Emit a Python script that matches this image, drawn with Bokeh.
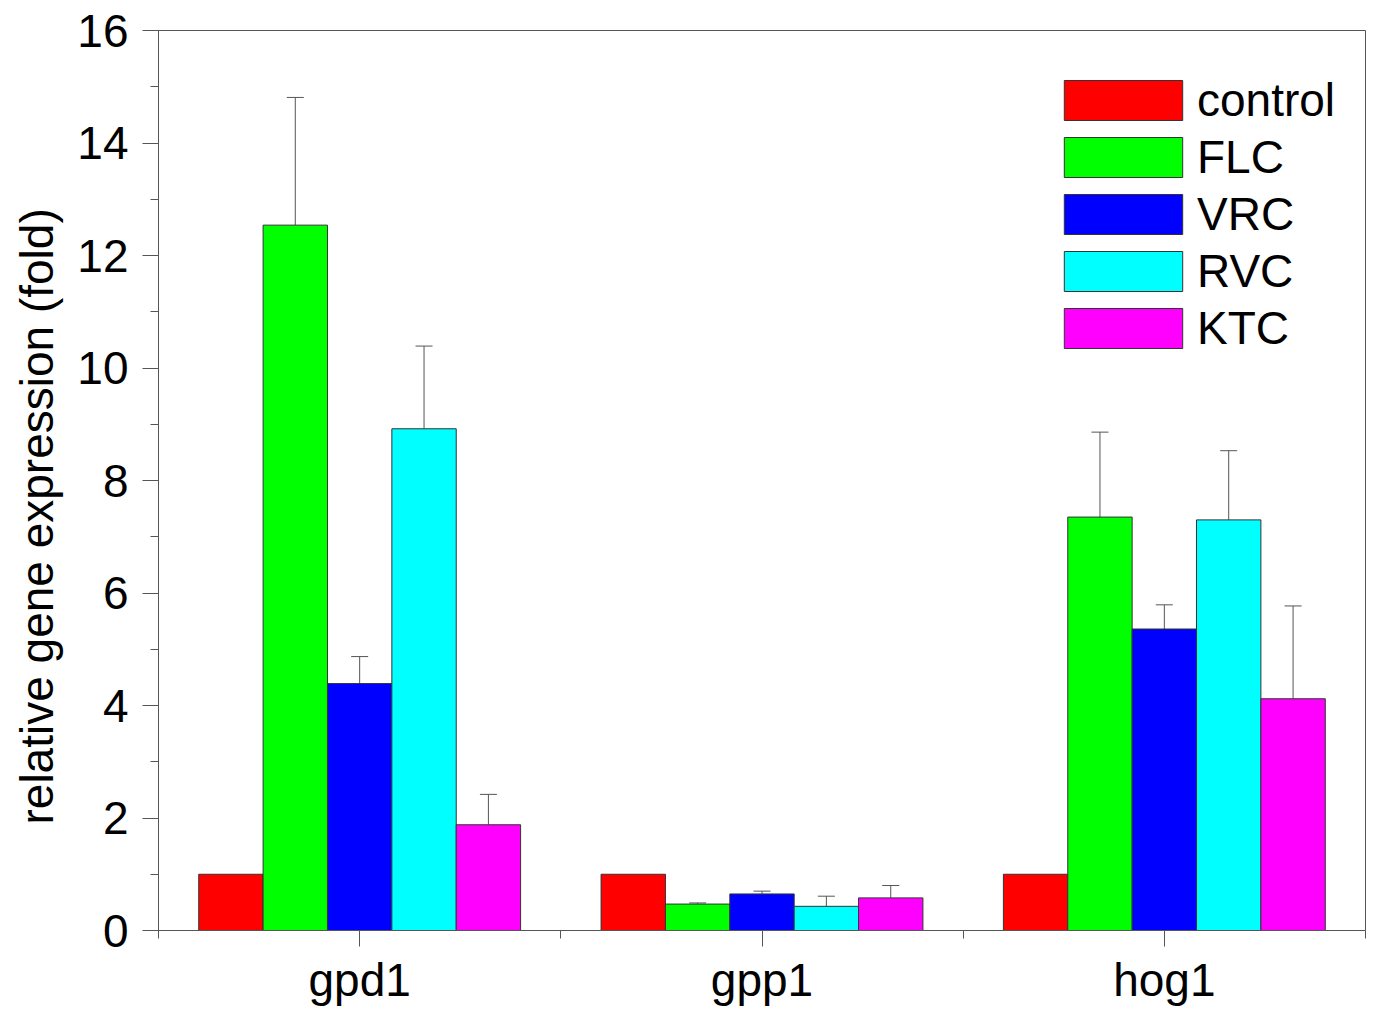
from bokeh.plotting import figure
from bokeh.models import (ColumnDataSource, FixedTicker, SingleIntervalTicker, Range1d,
                          Legend, LegendItem, Whisker, TeeHead, Title)
from bokeh.embed import file_html
from bokeh.resources import INLINE

genes = ['gpd1', 'gpp1', 'hog1']
treatments = ['control', 'FLC', 'VRC', 'RVC', 'KTC']
colors = ['#FF0000', '#00FF00', '#0000FF', '#00FFFF', '#FF00FF']

# mean fold change per gene, one list per treatment
control = [1.0, 1.0, 1.0]
flc = [12.54, 0.47, 7.35]
vrc = [4.39, 0.65, 5.36]
rvc = [8.92, 0.43, 7.30]
ktc = [1.88, 0.58, 4.12]

# upper error (SD) per gene
control_err = [0.0, 0.0, 0.0]
flc_err = [2.27, 0.02, 1.51]
vrc_err = [0.48, 0.05, 0.43]
rvc_err = [1.47, 0.18, 1.23]
ktc_err = [0.54, 0.22, 1.65]

means = [control, flc, vrc, rvc, ktc]
errs = [control_err, flc_err, vrc_err, rvc_err, ktc_err]

bar_w = 0.16
offsets = [-0.32, -0.16, 0.0, 0.16, 0.32]

FONT = "Liberation Sans"
AX = "#555555"

p = figure(width=1370, height=1008, output_backend="svg", toolbar_location=None,
           x_range=Range1d(0, 3), y_range=Range1d(0, 16),
           min_border_left=158, min_border_top=30, min_border_right=5, min_border_bottom=77)
p.grid.visible = False
p.outline_line_color = AX
p.outline_line_width = 1
p.background_fill_color = "white"
p.border_fill_color = "white"

items = []
for name, col, m, e, off in zip(treatments, colors, means, errs, offsets):
    xs = [i + 0.5 + off for i in range(len(genes))]
    src = ColumnDataSource(data=dict(x=xs, top=m, upper=[a + b for a, b in zip(m, e)]))
    r = p.vbar(x='x', top='top', bottom=0, width=bar_w, source=src,
               fill_color=col, line_color="#333333", line_width=1)
    items.append(LegendItem(label=name, renderers=[r]))
    if any(v > 0 for v in e):
        w = Whisker(base='x', upper='upper', lower='top', source=src,
                    line_color=AX, line_width=1,
                    upper_head=TeeHead(size=17, line_color=AX, line_width=1),
                    lower_head=None, level="underlay")
        p.add_layout(w)

# x axis
p.xaxis.ticker = FixedTicker(ticks=[0.5, 1.5, 2.5], minor_ticks=[0, 1, 2, 3])
p.xaxis.major_label_overrides = {0.5: 'gpd1', 1.5: 'gpp1', 2.5: 'hog1'}
# y axis
p.yaxis.ticker = SingleIntervalTicker(interval=2, num_minor_ticks=2)

for ax in (p.xaxis[0], p.yaxis[0]):
    ax.axis_line_color = AX
    ax.major_tick_line_color = AX
    ax.minor_tick_line_color = AX
    ax.major_tick_in = 0
    ax.major_tick_out = 16
    ax.minor_tick_in = 0
    ax.minor_tick_out = 8
    ax.major_label_text_font = FONT
    ax.major_label_text_font_size = "46px"
    ax.major_label_text_color = "black"
p.xaxis.major_label_standoff = 7
p.yaxis.major_label_standoff = 14

ytitle = Title(text="relative gene expression (fold)", align="left", offset=106,
               vertical_align="top",
               text_font=FONT, text_font_size="46px", text_font_style="normal",
               text_color="black", standoff=20)
p.add_layout(ytitle, "left")

legend = Legend(items=items, location=(891, 575), orientation="vertical",
                glyph_width=148, glyph_height=50, spacing=3, label_standoff=0,
                label_height=50, padding=0, margin=0,
                label_text_font=FONT, label_text_font_size="46px", label_text_color="black",
                border_line_alpha=0, background_fill_alpha=0)
p.add_layout(legend)

open("out.html", "w").write(file_html(p, INLINE))
